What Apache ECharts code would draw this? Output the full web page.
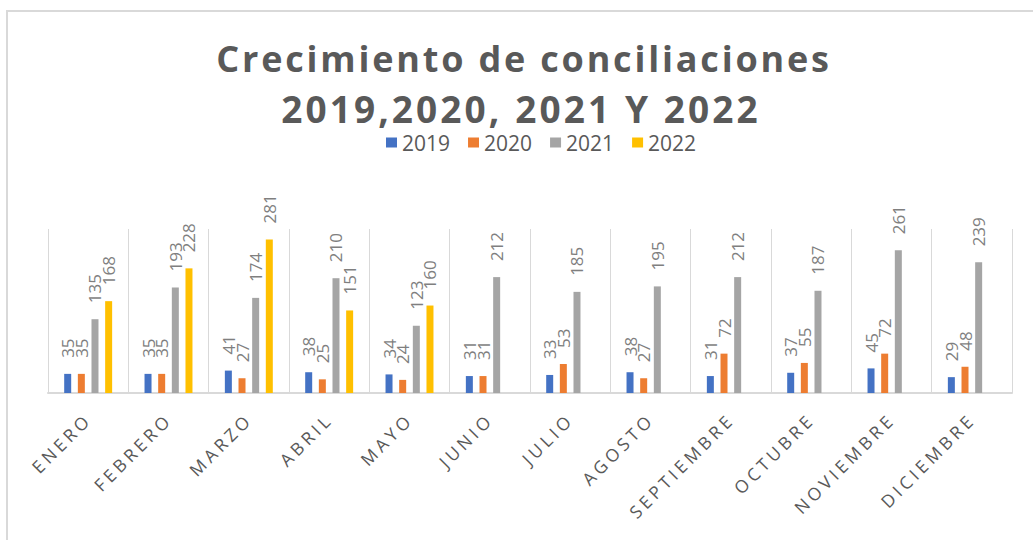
<!DOCTYPE html>
<html>
<head>
<meta charset="utf-8">
<title>Crecimiento de conciliaciones</title>
<script src="https://cdn.jsdelivr.net/npm/echarts@6/dist/echarts.min.js"></script>
<style>
  html, body { margin: 0; padding: 0; background: #ffffff; }
  #frame {
    position: absolute; left: 6px; top: 10px; width: 1100px; height: 600px;
    border-top: 2px solid #d9d9d9; border-left: 2px solid #d9d9d9;
  }
  #chart { position: absolute; left: 0; top: 0; width: 1033px; height: 540px; }
  /* spaced lettering for the title lines and month names */
  #chart text[style*="36px"] { letter-spacing: 2.8px; }
  #chart text[style*="37px"] { letter-spacing: 3.1px; }
  #chart text[style*="17.5px"] { letter-spacing: 3.8px; }
</style>
</head>
<body>
<div id="frame"></div>
<div id="chart"></div>
<script>
const months = ['ENERO', 'FEBRERO', 'MARZO', 'ABRIL', 'MAYO', 'JUNIO', 'JULIO',
  'AGOSTO', 'SEPTIEMBRE', 'OCTUBRE', 'NOVIEMBRE', 'DICIEMBRE'];
const years = ['2019', '2020', '2021', '2022'];
const data2019 = [35, 35, 41, 38, 34, 31, 33, 38, 31, 37, 45, 29];
const data2020 = [35, 35, 27, 25, 24, 31, 53, 27, 72, 55, 72, 48];
const data2021 = [135, 193, 174, 210, 123, 212, 185, 195, 212, 187, 261, 239];
const data2022 = [168, 228, 281, 151, 160, null, null, null, null, null, null, null];
const seriesValues = [data2019, data2020, data2021, data2022];
const colors = ['#4472C4', '#ED7D31', '#A5A5A5', '#FFC000'];

const FONT = '"Open Sans", "Noto Sans", sans-serif';

const chart = echarts.init(document.getElementById('chart'), null, { renderer: 'svg' });

chart.setOption({
  animation: false,
  backgroundColor: 'transparent',
  title: [
    {
      text: 'Crecimiento de conciliaciones',
      left: 524, top: 40, padding: 0,
      textAlign: 'center', textVerticalAlign: 'top',
      textStyle: { fontFamily: FONT, fontSize: 36, fontWeight: 'bold', color: '#595959' }
    },
    {
      text: '2019,2020, 2021 Y 2022',
      left: 521, top: 90, padding: 0,
      textAlign: 'center', textVerticalAlign: 'top',
      textStyle: { fontFamily: FONT, fontSize: 37, fontWeight: 'bold', color: '#595959', lineHeight: 37 }
    }
  ],
  legend: {
    data: years,
    left: 381, top: 127,
    icon: 'rect', itemWidth: 11, itemHeight: 10, itemGap: 18,
    textStyle: { fontFamily: FONT, fontSize: 21, color: '#595959' }
  },
  grid: { left: 48, right: 21, top: 229, bottom: 147, containLabel: false, outerBoundsMode: 'none' },
  xAxis: {
    type: 'category',
    data: months,
    axisLine: { lineStyle: { color: '#d9d9d9', width: 2 } },
    axisTick: { show: false },
    splitLine: { show: true, lineStyle: { color: '#d9d9d9', width: 1 } },
    axisLabel: {
      interval: 0, rotate: 45, margin: 23,
      fontFamily: FONT, fontSize: 17.5, color: '#595959'
    }
  },
  yAxis: {
    type: 'value', min: 0, max: 300, show: false,
    splitLine: { show: false }
  },
  series: years.map((y, i) => ({
    name: y,
    type: 'bar',
    data: seriesValues[i],
    barWidth: 7,
    barGap: '95%',
    itemStyle: { color: colors[i] },
    label: {
      show: true,
      position: 'top',
      distance: 16,
      rotate: 90,
      align: 'left',
      verticalAlign: 'middle',
      fontFamily: FONT, fontSize: 17, color: '#7f7f7f'
    }
  }))
});
</script>
</body>
</html>
